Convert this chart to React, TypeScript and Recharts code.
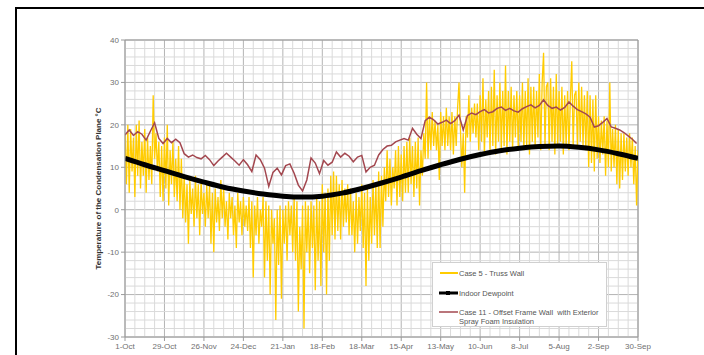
import { LineChart, Line, XAxis, YAxis, CartesianGrid, ReferenceLine, Legend } from "recharts";

// x axis: day of the year starting 1-Oct, labelled every 28 days
const DATE_LABELS = [
  "1-Oct", "29-Oct", "26-Nov", "24-Dec", "21-Jan", "18-Feb", "18-Mar",
  "15-Apr", "13-May", "10-Jun", "8-Jul", "5-Aug", "2-Sep", "30-Sep",
];
const TEMP_TICKS = [-30, -20, -10, 0, 10, 20, 30, 40];

// Case 5 - Truss Wall, one reading per day (10 days per row), day highs / night lows
const CASE5_STEP = 1;
const case5Temps = [
  18, 6, 20, 4, 19, 9, 17, 3, 20, 8,
  21, 5, 16, 8, 19, 4, 17, 7, 15, 6,
  27, 12, 18, 9, 16, 3, 15, 2, 17, 5,
  20, 1, 14, 6, 16, 3, 12, 2, 15, 0,
  12, -2, 8, -3, 6, -8, 7, -1, 5, -4,
  8, -2, 6, -6, 7, -1, 4, -4, 6, -2,
  6, -8, 4, -10, 5, -3, 3, -5, 7, -2,
  5, -4, 2, -7, 4, -2, 3, -6, 1, -9,
  4, -3, 2, -6, 3, -4, 1, -5, 3, -9,
  2, -16, 1, -6, 3, -8, 0, -4, 3, -16,
  2, -12, 1, -20, 0, -8, -2, -26, 0, -13,
  1, -21, 0, -8, 1, -12, 2, -6, 1, -10,
  3, -12, 2, -24, -4, -14, 1, -28, 2, -10,
  1, -15, 2, -9, 1, -19, 3, -12, 2, -18,
  6, -10, 4, -20, 5, -12, 8, -6, 9, -7,
  8, -5, 6, -7, 7, -4, 5, -3, 6, -6,
  5, -6, 2, -10, 4, -8, 3, -5, 6, -9,
  4, -18, 5, -12, 3, -8, 7, -6, 6, -9,
  9, -9, 8, -4, 10, 2, 14, 3, 12, 1,
  10, 5, 14, 1, 15, 3, 13, 2, 15, 4,
  16, 4, 17, 6, 15, 3, 16, 5, 17, 1,
  14, 8, 18, 12, 30, 12, 22, 14, 23, 15,
  21, 14, 20, 7, 23, 15, 22, 14, 24, 15,
  22, 14, 23, 13, 22, 15, 24, 30, 19, 10,
  18, 4, 22, 17, 27, 16, 24, 18, 25, 17,
  25, 14, 27, 16, 31, 13, 26, 17, 28, 14,
  29, 15, 33, 13, 27, 16, 30, 14, 28, 15,
  34, 13, 28, 16, 29, 14, 27, 17, 28, 15,
  27, 16, 30, 14, 28, 15, 31, 13, 29, 16,
  29, 15, 28, 17, 32, 14, 30, 37, 15, 29,
  30, 14, 31, 16, 29, 13, 32, 15, 28, 16,
  29, 13, 27, 15, 28, 14, 26, 35, 15, 27,
  28, 15, 30, 16, 29, 15, 27, 14, 28, 10,
  27, 11, 26, 9, 27, 12, 22, 11, 21, 13,
  22, 8, 21, 10, 30, 9, 19, 10, 20, 6,
  19, 5, 18, 7, 18, 9, 17, 8, 18, 10,
  17, 6, 15, 1, 14,
];

// Case 11 - Offset Frame Wall with Exterior Spray Foam Insulation, every 3 days
const CASE11_STEP = 3;
const case11Temps = [
  17.6, 18.8, 17.5, 18.4, 17.8, 16.4, 18.5, 20.5, 16.8, 15.6,
  16.8, 15.8, 16.6, 15.8, 13.2, 12.4, 12.9, 12.3, 12.0, 12.8,
  11.8, 10.4, 11.5, 12.4, 13.3, 12.4, 11.5, 10.5, 11.8, 10.6,
  9.0, 12.9, 11.8, 9.8, 5.5, 8.8, 9.8, 8.2, 10.4, 10.8,
  8.6, 5.8, 4.4, 7.0, 12.2, 11.0, 8.5, 11.6, 10.5, 11.2,
  13.6, 12.4, 13.3, 12.6, 11.3, 12.4, 12.8, 8.9, 10.0, 10.5,
  12.9, 14.2, 15.0, 15.2, 16.0, 16.4, 16.8, 16.4, 19.2, 17.8,
  16.8, 21.0, 21.8, 21.2, 20.2, 20.6, 21.1, 20.3, 21.0, 22.3,
  18.8, 22.2, 22.8, 22.4, 23.1, 23.6, 22.8, 23.1, 23.9, 24.2,
  23.4, 23.9, 23.3, 23.0, 23.8, 24.3, 24.7, 24.0, 24.6, 25.9,
  24.6, 23.9, 24.2, 23.5, 24.1, 25.4, 24.4, 23.6, 23.1, 22.6,
  21.8, 19.5, 19.8, 20.6, 21.5, 19.5, 19.2, 18.8, 18.2, 17.4,
  16.6, 15.6,
];

// Indoor dewpoint, every 14 days
const DEW_STEP = 14;
const dewpointTemps = [
  12.1, 10.6, 9.2, 7.8, 6.5, 5.3, 4.4, 3.7, 3.2, 3.0,
  3.2, 3.9, 5.0, 6.3, 7.7, 9.2, 10.6, 11.9, 13.0, 13.9,
  14.5, 14.9, 15.0, 14.7, 14.1, 13.2, 12.1,
];

const YELLOW = "#ffcc00";
const MAROON = "#a3474f";

const case5Data = case5Temps.map((t, i) => ({ d: i * CASE5_STEP, t }));
const case11Data = case11Temps.map((t, i) => ({ d: i * CASE11_STEP, t }));
const dewData = dewpointTemps.map((t, i) => ({ d: i * DEW_STEP, t }));

const dateTicks = DATE_LABELS.map((_, i) => i * 28);
const minorDays: number[] = [];
for (let d = 7; d < 364; d += 7) if (d % 28 !== 0) minorDays.push(d);
const minorTemps: number[] = [];
for (let t = -28; t < 40; t += 2) if (t % 10 !== 0) minorTemps.push(t);

const renderLegend = () => (
  <div
    style={{
      position: "relative",
      width: 175,
      height: 65,
      boxSizing: "border-box",
      background: "#fff",
      border: "1px solid #d0d0d0",
      fontSize: 7.5,
      color: "#555",
      lineHeight: "9px",
    }}
  >
    <svg width={175} height={65} style={{ position: "absolute", left: 0, top: 0 }}>
      <line x1={7} x2={25} y1={10} y2={10} stroke={YELLOW} strokeWidth={2} />
      <line x1={6} x2={25} y1={30} y2={30} stroke="#000" strokeWidth={3} />
      <rect x={13} y={28} width={4} height={4} fill="#000" />
      <line x1={6} x2={25} y1={49} y2={49} stroke={MAROON} strokeWidth={1.5} />
    </svg>
    <div style={{ position: "absolute", left: 26, top: 6 }}>Case 5 - Truss Wall</div>
    <div style={{ position: "absolute", left: 26, top: 26 }}>Indoor Dewpoint</div>
    <div style={{ position: "absolute", left: 26, top: 45, whiteSpace: "nowrap" }}>
      Case 11 - Offset Frame Wall&nbsp; with Exterior
      <br />
      Spray Foam Insulation
    </div>
  </div>
);

export default function App() {
  return (
    <div
      style={{
        position: "fixed",
        left: 0,
        top: 0,
        width: 704,
        height: 355,
        background: "#fff",
        overflow: "hidden",
        fontFamily: "'Liberation Sans', Arial, sans-serif",
      }}
    >
      <div
        style={{
          position: "absolute",
          left: 15,
          top: 7,
          width: 720,
          height: 400,
          borderLeft: "2px solid #000",
          borderTop: "2px solid #000",
        }}
      />
      <LineChart
        width={704}
        height={355}
        margin={{ top: 40, right: 66, bottom: 0, left: 90 }}
        style={{ position: "absolute", left: 0, top: 0 }}
      >
        {minorTemps.map((t) => (
          <ReferenceLine key={`my${t}`} y={t} stroke="#dadada" strokeWidth={1} />
        ))}
        {minorDays.map((d) => (
          <ReferenceLine key={`mx${d}`} x={d} stroke="#dadada" strokeWidth={1} />
        ))}
        <CartesianGrid stroke="#b4b4b4" strokeWidth={1} />
        <ReferenceLine y={40} stroke="#9a9a9a" />
        <ReferenceLine x={364} stroke="#9a9a9a" />
        <XAxis
          dataKey="d"
          type="number"
          domain={[0, 364]}
          ticks={dateTicks}
          tickFormatter={(v: number) => DATE_LABELS[Math.round(v / 28)]}
          height={18}
          stroke="#9a9a9a"
          tickSize={4}
          tick={{ fontSize: 8, fill: "#707070" }}
          interval={0}
          allowDataOverflow
        />
        <YAxis
          type="number"
          domain={[-30, 40]}
          ticks={TEMP_TICKS}
          width={35}
          stroke="#9a9a9a"
          tickSize={4}
          tick={{ fontSize: 8, fill: "#707070" }}
          interval={0}
          label={{
            value: "Temperature of the Condensation Plane °C",
            angle: -90,
            position: "insideLeft",
            offset: 8,
            style: { textAnchor: "middle", fontSize: 8, fontWeight: "bold", fill: "#333" },
          }}
        />
        <Line
          data={case5Data}
          dataKey="t"
          type="linear"
          stroke={YELLOW}
          strokeWidth={1.3}
          dot={false}
          isAnimationActive={false}
        />
        <Line
          data={case11Data}
          dataKey="t"
          type="linear"
          stroke={MAROON}
          strokeWidth={1.5}
          dot={false}
          isAnimationActive={false}
        />
        <Line
          data={dewData}
          dataKey="t"
          type="monotone"
          stroke="#000"
          strokeWidth={5}
          dot={false}
          isAnimationActive={false}
        />
        <Legend
          layout="horizontal"
          verticalAlign="middle"
          align="center"
          content={renderLegend}
          wrapperStyle={{ left: 432, top: 262, width: 175, height: 65 }}
        />
      </LineChart>
    </div>
  );
}
